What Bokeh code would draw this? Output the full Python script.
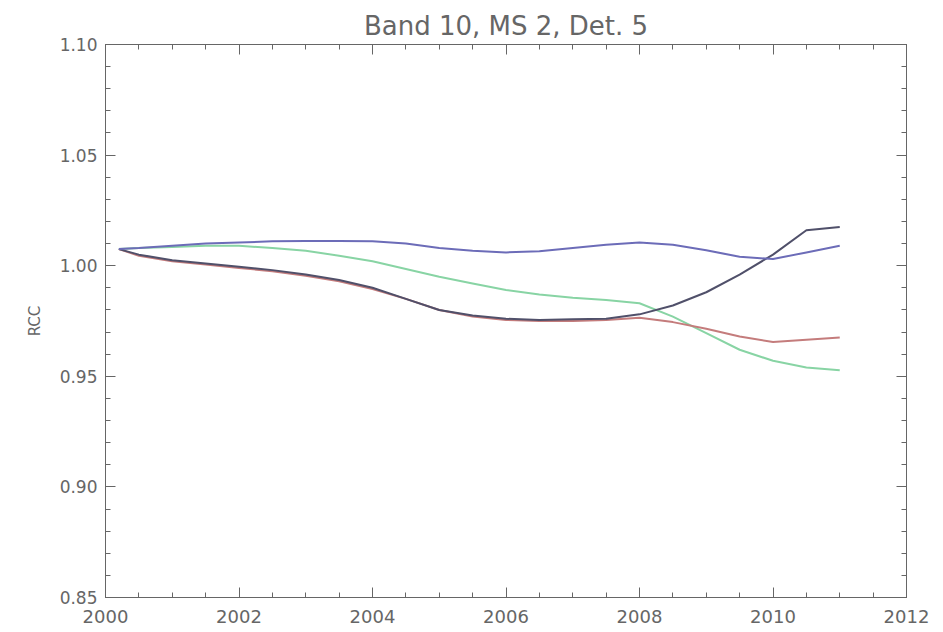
from bokeh.plotting import figure
from bokeh.models import LinearAxis, FixedTicker, PrintfTickFormatter, Range1d
from bokeh.embed import file_html
from bokeh.resources import INLINE

years = [2000.2, 2000.5, 2001.0, 2001.5, 2002.0, 2002.5, 2003.0, 2003.5, 2004.0, 2004.5,
         2005.0, 2005.5, 2006.0, 2006.5, 2007.0, 2007.5, 2008.0, 2008.5, 2009.0, 2009.5,
         2010.0, 2010.5, 2011.0]
blue = [1.0075, 1.008, 1.009, 1.010, 1.0105, 1.011, 1.0112, 1.0112, 1.011, 1.010,
        1.008, 1.0068, 1.006, 1.0065, 1.008, 1.0095, 1.0105, 1.0095, 1.007, 1.004,
        1.003, 1.006, 1.009]
green = [1.0075, 1.008, 1.0085, 1.009, 1.009, 1.008, 1.0068, 1.0045, 1.002, 0.9985,
         0.995, 0.992, 0.989, 0.987, 0.9855, 0.9845, 0.983, 0.977, 0.9695, 0.962,
         0.957, 0.954, 0.9527]
red = [1.0075, 1.0045, 1.002, 1.0005, 0.999, 0.9975, 0.9955, 0.993, 0.9895, 0.985,
       0.980, 0.977, 0.9755, 0.975, 0.975, 0.9755, 0.9765, 0.9745, 0.9715, 0.968,
       0.9655, 0.9665, 0.9675]
dark = [1.0075, 1.005, 1.0025, 1.001, 0.9995, 0.998, 0.996, 0.9935, 0.990, 0.985,
        0.980, 0.9775, 0.976, 0.9755, 0.9758, 0.976, 0.978, 0.982, 0.988, 0.996,
        1.005, 1.016, 1.0175]

x_ticks = [2000, 2002, 2004, 2006, 2008, 2010, 2012]
y_ticks = [0.85, 0.90, 0.95, 1.00, 1.05, 1.10]

FONT = "DejaVu Sans"
GRAY = "#666666"

p = figure(width=935, height=630, output_backend="svg", toolbar_location=None,
           x_range=Range1d(2000, 2012), y_range=Range1d(0.85, 1.10),
           x_axis_type=None, y_axis_type=None,
           min_border_left=105, min_border_right=29, min_border_top=44, min_border_bottom=33,
           title="Band 10, MS 2, Det. 5")
p.title.align = "center"
p.title.text_font = FONT
p.title.text_font_size = "26px"
p.title.text_font_style = "normal"
p.title.text_color = GRAY
p.title.offset = 0
p.title.standoff = 7
p.grid.visible = False
p.outline_line_color = GRAY
p.background_fill_color = "white"
p.border_fill_color = "white"


def style(ax, labels=True):
    ax.axis_line_color = GRAY
    ax.major_tick_line_color = GRAY
    ax.minor_tick_line_color = GRAY
    ax.major_tick_in = 10
    ax.major_tick_out = 0
    ax.minor_tick_in = 5
    ax.minor_tick_out = 0
    ax.major_label_text_font = FONT
    ax.major_label_text_color = GRAY
    ax.major_label_text_font_size = "18px"
    ax.axis_label_text_font = FONT
    ax.axis_label_text_color = GRAY
    ax.axis_label_text_font_size = "15px"
    ax.axis_label_text_font_style = "normal"
    if not labels:
        ax.major_label_standoff = 0


for loc in ["below", "above"]:
    ax = LinearAxis(ticker=FixedTicker(ticks=x_ticks,
                                       minor_ticks=[2000 + 0.5 * i for i in range(25)]))
    style(ax, labels=(loc == "below"))
    if loc == "below":
        ax.major_label_standoff = 12
    else:
        ax.major_label_overrides = {t: "" for t in x_ticks}
    p.add_layout(ax, loc)

for loc in ["left", "right"]:
    ax = LinearAxis(ticker=FixedTicker(ticks=y_ticks,
                                       minor_ticks=[round(0.85 + 0.01 * i, 2) for i in range(26)]),
                    formatter=PrintfTickFormatter(format="%.2f"))
    style(ax, labels=(loc == "left"))
    if loc == "left":
        ax.major_label_text_font_size = "17px"
        ax.axis_label = "RCC"
        ax.axis_label_standoff = 13
        ax.major_label_standoff = 8
    else:
        ax.major_label_overrides = {t: "" for t in y_ticks}
    p.add_layout(ax, loc)

p.line(years, green, line_color="#88d4a4", line_width=2)
p.line(years, red, line_color="#c47c7c", line_width=2)
p.line(years, dark, line_color="#50506a", line_width=2)
p.line(years, blue, line_color="#6c6cb8", line_width=2)

open("out.html", "w").write(file_html(p, INLINE))
